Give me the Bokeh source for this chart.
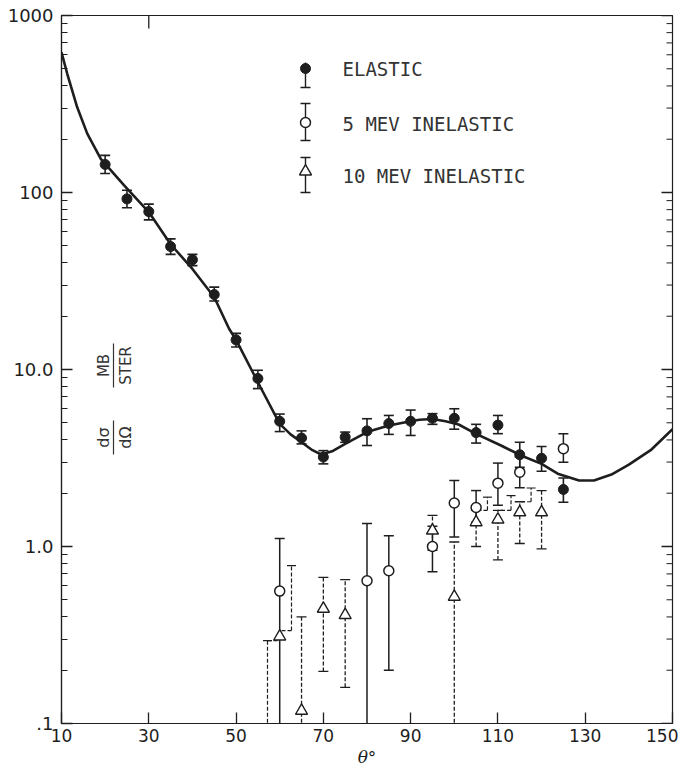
import math
from bokeh.plotting import figure
from bokeh.models import Range1d, FixedTicker, LinearScale
from bokeh.embed import file_html
from bokeh.resources import INLINE
from bokeh.core.properties import value

# ---------------- data ----------------
curve_theta = [10, 11.3, 13.6, 15.9, 19, 24.3, 30, 35, 40, 45, 48.4, 50, 55.6, 60,
               62.5, 65, 67.5, 69.5, 72, 75, 80, 85, 90, 92, 95, 98, 101, 105,
               110.7, 115.3, 120, 123.7, 128.6, 132, 136, 140, 145, 150]
curve_sigma = [620, 470, 303, 215, 155, 110, 77.5, 51, 37, 25.6, 17, 14.7, 7.94, 4.93,
               4.3, 3.88, 3.5, 3.31, 3.45, 3.8, 4.43, 4.83, 5.1, 5.2, 5.25, 5.1, 4.89, 4.33,
               3.72, 3.27, 2.93, 2.58, 2.36, 2.36, 2.55, 2.9, 3.5, 4.6]

elastic_theta = [20, 25, 30, 35, 40, 45, 50, 55, 60, 65, 70, 75, 80, 85, 90, 95, 100,
                 105, 110, 115, 120, 125]
elastic_sigma = [144, 92, 78, 49.5, 41.7, 26.5, 14.7, 8.9, 5.1, 4.1, 3.2, 4.15, 4.5,
                 4.95, 5.1, 5.3, 5.3, 4.4, 4.85, 3.3, 3.15, 2.1]
elastic_lo = [128, 82, 70, 44.7, 38.6, 24.4, 13.4, 7.8, 4.46, 3.8, 2.93, 3.88, 3.72,
              4.3, 4.24, 4.9, 4.6, 3.84, 4.34, 2.8, 2.66, 1.78]
elastic_hi = [162, 103, 86, 54.7, 44.7, 29.2, 16, 9.9, 5.6, 4.5, 3.48, 4.43, 5.27,
              5.5, 5.9, 5.63, 6.0, 4.9, 5.5, 3.88, 3.67, 2.44]

mev5_theta = [60, 80, 85, 95, 100, 105, 110, 115, 125]
mev5_sigma = [0.56, 0.64, 0.73, 1.0, 1.76, 1.66, 2.28, 2.63, 3.57]
mev5_lo = [0.05, 0.05, 0.2, 0.72, 1.13, 1.37, 1.71, 2.15, 2.99]
mev5_hi = [1.11, 1.35, 1.15, 1.3, 2.36, 2.07, 2.96, 3.2, 4.34]

mev10_theta = [60, 65, 70, 75, 95, 100, 105, 110, 115, 120]
mev10_sigma = [0.31, 0.118, 0.445, 0.41, 1.23, 0.52, 1.37, 1.42, 1.56, 1.56]
mev10_lo = [None, 0.05, 0.197, 0.16, 0.95, 0.05, 1.0, 0.84, 1.04, 0.97]
mev10_hi = [None, 0.40, 0.67, 0.65, 1.5, 1.06, 1.6, 1.6, 1.79, 2.07]

# error bars drawn beside a crowded point, joined to it by a short step
offset_theta = [57.2, 62.7, 107.6, 113, 117.6]
offset_lo = [0.05, 0.335, 1.6, 1.6, 1.79]
offset_hi = [0.294, 0.78, 1.9, 1.94, 2.14]
offset_join_theta = [60, 60, 105, 110, 115]
offset_join_sigma = [0.294, 0.335, 1.6, 1.6, 1.79]

x_ticks = [10, 30, 50, 70, 90, 110, 130, 150]
x_ticks_top = [30]
y_ticks = [0.1, 1, 10, 100, 1000]
y_tick_labels = [".1", "1.0", "10.0", "100", "1000"]
legend_labels = ["ELASTIC", "5 MEV  INELASTIC", "10 MEV  INELASTIC"]

# ---------------- figure ----------------
INK = "#1e1e1e"
W, H = 678, 772
FL, FR, FT, FB = 61, 6, 15, 49
FW, FH = W - FL - FR, H - FT - FB

p = figure(width=W, height=H, x_range=Range1d(10, 150), y_range=Range1d(0.1, 1000),
           y_axis_type="log", output_backend="svg", toolbar_location=None,
           min_border_left=FL, min_border_right=FR, min_border_top=FT,
           min_border_bottom=FB)
p.grid.visible = False
p.outline_line_color = INK
p.outline_line_width = 1.2
p.background_fill_color = "white"
p.border_fill_color = "white"

# overlay ranges in frame pixels (for legend, unit label and inner ticks)
p.extra_x_ranges = {"px": Range1d(0, FW)}
p.extra_y_ranges = {"px": Range1d(FH, 0)}
p.extra_x_scales = {"px": LinearScale()}
p.extra_y_scales = {"px": LinearScale()}

y_minor = [m * 10 ** k for k in range(-1, 3) for m in range(2, 10)]


def style_axis(ax):
    ax.axis_line_color = INK
    ax.axis_line_width = 1.2
    ax.major_tick_line_color = INK
    ax.minor_tick_line_color = INK
    ax.major_tick_line_width = 1.3
    ax.major_tick_in = 11
    ax.major_tick_out = 0
    ax.minor_tick_in = 6
    ax.minor_tick_out = 0
    ax.major_label_text_color = INK
    ax.major_label_text_font = "DejaVu Sans"


xa = p.xaxis[0]
xa.ticker = FixedTicker(ticks=x_ticks, minor_ticks=[])
style_axis(xa)
xa.major_label_text_font_size = "17px"
xa.major_label_standoff = 5
xa.axis_label = "θ°"
xa.axis_label_text_font_style = "italic"
xa.axis_label_text_font = "DejaVu Serif"
xa.axis_label_text_font_size = "17px"
xa.axis_label_text_color = INK
xa.axis_label_standoff = 2

ya = p.yaxis[0]
ya.ticker = FixedTicker(ticks=y_ticks, minor_ticks=y_minor)
style_axis(ya)
ya.major_label_text_font_size = "18px"
ya.major_label_standoff = 8
ya.major_label_overrides = {float(t): l for t, l in zip(y_ticks, y_tick_labels)}

PX = dict(x_range_name="px", y_range_name="px")
# inner ticks on the top and right edges of the frame
p.segment(x_ticks_top, [0] * len(x_ticks_top), x_ticks_top, [13] * len(x_ticks_top),
          line_color=INK, line_width=1.3, y_range_name="px")
p.segment([FW] * len(y_ticks), y_ticks, [FW - 11] * len(y_ticks), y_ticks,
          line_color=INK, line_width=1.3, x_range_name="px")
p.segment([FW] * len(y_minor), y_minor, [FW - 6] * len(y_minor), y_minor,
          line_color=INK, line_width=1.0, x_range_name="px")

# ---------------- curve ----------------
p.line(curve_theta, curve_sigma, line_width=2.6, line_color=INK)


# ---------------- error bars ----------------
def bars(theta, lo, hi, width, dash="solid"):
    keep = [i for i in range(len(theta)) if lo[i] is not None]
    t = [theta[i] for i in keep]
    l = [lo[i] for i in keep]
    h = [hi[i] for i in keep]
    p.segment(t, l, t, h, line_color=INK, line_width=width, line_dash=dash)
    p.scatter(t, l, marker="dash", size=10, line_color=INK, line_width=width)
    p.scatter(t, h, marker="dash", size=10, line_color=INK, line_width=width)


bars(elastic_theta, elastic_lo, elastic_hi, 1.6)
bars(mev5_theta, mev5_lo, mev5_hi, 1.5)
bars(mev10_theta, mev10_lo, mev10_hi, 1.3, dash="4 2")
# offset bars
p.segment(offset_theta, offset_lo, offset_theta, offset_hi, line_color=INK,
          line_width=1.2, line_dash="4 2")
p.segment(offset_theta, offset_join_sigma, offset_join_theta, offset_join_sigma,
          line_color=INK, line_width=1.2, line_dash="4 2")
p.scatter(offset_theta, offset_hi, marker="dash", size=9, line_color=INK, line_width=1.2)

# ---------------- markers ----------------
p.scatter(elastic_theta, elastic_sigma, marker="circle", size=10, fill_color=INK,
          line_color=INK, line_width=1)
p.scatter(mev5_theta, mev5_sigma, marker="circle", size=10, fill_color="white",
          line_color=INK, line_width=1.5)
p.scatter(mev10_theta, mev10_sigma, marker="triangle", size=12, fill_color="white",
          line_color=INK, line_width=1.4)

# ---------------- legend (drawn in frame pixels) ----------------
LX, TX = 244, 281
rows = [53, 108, 160]
# elastic
p.segment([LX], [rows[0] - 6], [LX], [rows[0] + 19], line_color=INK, line_width=1.4, **PX)
p.scatter([LX], [rows[0] + 19], marker="dash", size=10, line_color=INK, line_width=1.4, **PX)
p.scatter([LX], [rows[0]], marker="circle", size=10, fill_color=INK, line_color=INK, **PX)
# 5 MeV
p.segment([LX], [rows[1] - 20], [LX], [rows[1] + 17], line_color=INK, line_width=1.4, **PX)
p.scatter([LX, LX], [rows[1] - 20, rows[1] + 17], marker="dash", size=10,
          line_color=INK, line_width=1.4, **PX)
p.scatter([LX], [rows[1] - 1], marker="circle", size=10, fill_color="white",
          line_color=INK, line_width=1.5, **PX)
# 10 MeV
p.segment([LX], [rows[2] - 18], [LX], [rows[2] + 17], line_color=INK, line_width=1.4, **PX)
p.scatter([LX, LX], [rows[2] - 18, rows[2] + 17], marker="dash", size=10,
          line_color=INK, line_width=1.4, **PX)
p.scatter([LX], [rows[2] - 4], marker="triangle", size=12, fill_color="white",
          line_color=INK, line_width=1.4, **PX)
p.text([TX] * 3, rows, text=legend_labels, text_font=value("DejaVu Sans Mono"),
       text_font_size="19px", text_color="#333333", text_baseline="middle",
       text_align="left", **PX)

# ---------------- unit label (rotated) ----------------
half = math.pi / 2
p.text([42, 64], [350, 350], text=["MB", "STER"], angle=half,
       text_font=value("DejaVu Sans"), text_font_size="15px", text_color="#333333",
       text_align="center", text_baseline="middle", **PX)
p.text([42, 64], [422, 422], text=["dσ", "dΩ"], angle=half,
       text_font=value("DejaVu Sans"), text_font_size="16px", text_color="#333333",
       text_align="center", text_baseline="middle", **PX)
p.segment([52, 52], [328, 405], [52, 52], [372, 439], line_color="#333333",
          line_width=1.2, **PX)

open("out.html", "w").write(file_html(p, INLINE))
